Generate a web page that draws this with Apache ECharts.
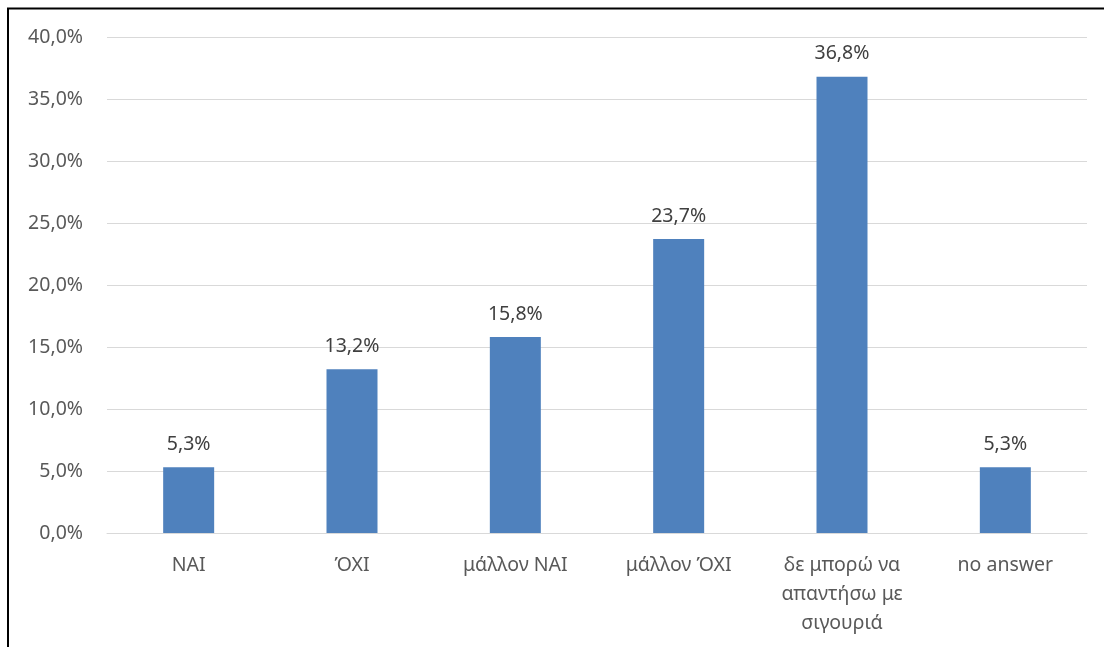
<!DOCTYPE html>
<html>
<head>
<meta charset="utf-8">
<script src="https://cdn.jsdelivr.net/npm/echarts@6/dist/echarts.min.js"></script>
<style>html,body{margin:0;padding:0;background:#fff}#c{width:1104px;height:647px}</style>
</head>
<body>
<div id="c"></div>
<script>
const categories = ['NAI', 'ΌΧΙ', 'μάλλον NAI', 'μάλλον ΌΧΙ', 'δε μπορώ να\nαπαντήσω με\nσιγουριά', 'no answer'];
const values = [5.3, 13.2, 15.8, 23.7, 36.8, 5.3];
const yMin = 0, yMax = 40, yStep = 5;

const fmt = (v, d) => v.toFixed(d).replace('.', ',') + '%';
const chart = echarts.init(document.getElementById('c'), null, {renderer: 'canvas'});
const font = '"Noto Sans", "Open Sans", sans-serif';
chart.setOption({
  animation: false,
  backgroundColor: '#fff',
  grid: {left: 107, right: 17, top: 37, bottom: 114},
  xAxis: {
    type: 'category',
    data: categories,
    axisLine: {show: true, lineStyle: {color: '#d9d9d9', width: 1}},
    axisTick: {show: false},
    axisLabel: {color: '#595959', fontFamily: font, fontSize: 19.5, margin: 18, lineHeight: 29, interval: 0}
  },
  yAxis: {
    type: 'value',
    min: yMin, max: yMax, interval: yStep,
    axisLine: {show: false},
    axisTick: {show: false},
    splitLine: {lineStyle: {color: '#d9d9d9', width: 1}},
    axisLabel: {color: '#595959', fontFamily: font, fontSize: 19.5, margin: 24, formatter: v => fmt(v, 1)}
  },
  series: [{
    type: 'bar',
    data: values,
    barWidth: 51,
    itemStyle: {color: '#4F81BD'},
    label: {show: true, position: 'top', distance: 13, color: '#404040', fontFamily: font, fontSize: 19.5, formatter: p => fmt(p.value, 1)}
  }],
  graphic: [
    {type: 'polyline', shape: {points: [[8, 647], [8, 8.5], [1104, 8.5]]}, style: {stroke: '#000', lineWidth: 2, fill: null}}
  ]
});
</script>
</body>
</html>
